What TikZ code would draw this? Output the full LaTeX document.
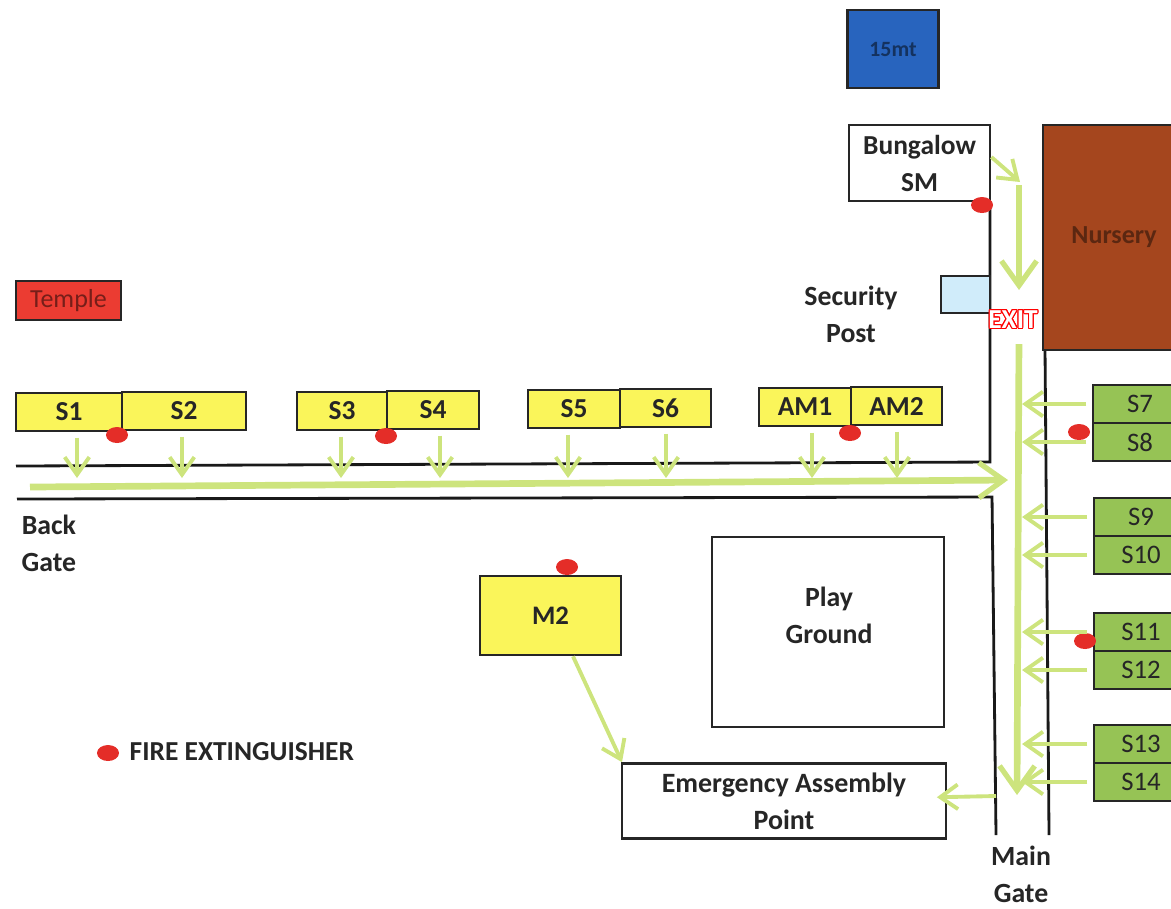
\documentclass[tikz,border=0pt]{standalone}
\usepackage{fontspec}
\usepackage[copies]{contour}
\setmainfont{Carlito}
\contourlength{0.3pt}
\usetikzlibrary{arrows.meta,shapes.geometric}
\definecolor{blockyellow}{RGB}{250,245,90}
\definecolor{blockgreen}{RGB}{150,195,85}
\definecolor{fleegreen}{RGB}{205,228,125}
\definecolor{nurserybrown}{RGB}{165,70,30}
\definecolor{tankblue}{RGB}{40,100,190}
\definecolor{templered}{RGB}{235,60,50}
\definecolor{postblue}{RGB}{208,236,250}
\definecolor{dotred}{RGB}{228,45,40}
\tikzset{
  block/.style={draw=black!85,line width=0.75pt,inner sep=0pt,align=center,text=black!85,
    font=\fontsize{7.8}{10.5}\selectfont\bfseries},
  yellowblock/.style={block,fill=blockyellow,minimum height=0.38cm},
  greenblock/.style={block,fill=blockgreen,font=\fontsize{7.6}{10}\selectfont,minimum width=0.94cm,minimum height=0.38cm},
  plain/.style={inner sep=0pt,align=center,text=black!85,font=\fontsize{7.9}{10.5}\selectfont\bfseries},
  wall/.style={black!90,line width=0.8pt},
  flee/.style={fleegreen,line width=1.1pt,-{Straight Barb[length=5pt,width=7pt,line width=1.1pt]}},
  fleemain/.style={fleegreen,line width=1.9pt,-{Straight Barb[length=7pt,width=10pt,line width=1.5pt]}},
  extdot/.style={ellipse,fill=dotred,inner sep=0pt,minimum width=0.22cm,minimum height=0.16cm}
}
\begin{document}
\begin{tikzpicture}[x=0.01cm,y=-0.01cm]
\useasboundingbox (0,0) rectangle (1171,908);
% walls
\draw[wall] (16,466) -- (990,462) -- (990,201);
\draw[wall] (17,499) -- (992,497) -- (996,835);
\draw[wall] (1045,350) -- (1049,835);
% buildings
\node[block,fill=tankblue,font=\fontsize{6.2}{8}\selectfont\bfseries,text=black!50!tankblue,minimum width=0.91cm,minimum height=0.78cm] (tank) at (893,49) {15mt};
\node[block,fill=white,minimum width=1.41cm,minimum height=0.76cm] (bungalow) at (919.5,163) {Bungalow\\SM};
\node[block,fill=nurserybrown,font=\fontsize{7.4}{10}\selectfont\bfseries,text=black!45!nurserybrown,minimum width=1.42cm,minimum height=2.25cm] (nursery) at (1114,237.5) {Nursery};
\node[block,fill=templered,font=\fontsize{7.4}{10}\selectfont,text=black!50!templered,minimum width=1.05cm,minimum height=0.39cm] (temple) at (68.5,300.5) {Temple};
\node[block,fill=postblue,minimum width=0.49cm,minimum height=0.37cm] (post) at (965.5,294.5) {};
\node[plain] (postlabel) at (851,314) {Security\\Post};
% row of blocks
\node[yellowblock,minimum width=1.06cm] (sa) at (69,412) {S1};
\node[yellowblock,minimum width=1.24cm] (sb) at (184,411) {S2};
\node[yellowblock,minimum width=0.90cm] (sc) at (342,411) {S3};
\node[yellowblock,minimum width=0.92cm] (sd) at (433,410) {S4};
\node[yellowblock,minimum width=0.92cm] (se) at (574,409) {S5};
\node[yellowblock,minimum width=0.91cm] (sf) at (665.5,408) {S6};
\node[yellowblock,minimum width=0.92cm] (ama) at (805,407) {AM1};
\node[yellowblock,minimum width=0.91cm] (amb) at (896.5,406) {AM2};
% blocks along the main road
\node[greenblock] (sg) at (1140,404) {S7};
\node[greenblock] (sh) at (1140,442) {S8};
\node[greenblock] (si) at (1141,517) {S9};
\node[greenblock] (sj) at (1141,555) {S10};
\node[greenblock] (sk) at (1141,632) {S11};
\node[greenblock] (sl) at (1141,670) {S12};
\node[greenblock] (sm) at (1141,744) {S13};
\node[greenblock] (sn) at (1141,782) {S14};
% others
\node[block,fill=blockyellow,font=\fontsize{7.6}{10}\selectfont\bfseries,minimum width=1.41cm,minimum height=0.79cm] (mtwo) at (550.5,615.5) {M2};
\node[block,fill=white,minimum width=2.32cm,minimum height=1.90cm] (play) at (828,632) {};
\node[plain] (playlabel) at (829,615) {Play\\Ground};
\node[block,fill=white,font=\fontsize{7.95}{10.5}\selectfont\bfseries,minimum width=3.24cm,minimum height=0.75cm] (assembly) at (784,801) {Emergency Assembly\\Point};
\node[plain,anchor=west] (backgate) at (21,543) {Back\\Gate};
\node[plain] (maingate) at (1021,874) {Main\\Gate};
\node[font=\fontsize{7.8}{8}\selectfont\bfseries,inner sep=0pt] (exit) at (1013,320) {\contour{red}{\textcolor{white}{EXIT}}};
% extinguishers
\node[extdot] (eb) at (982,205) {};
\foreach \n/\x/\y in {ea/117/435,ec/386/436,ed/850/433,ee/567/567,ef/1079/432,eg/1085/641}
  \node[extdot] (\n) at (\x,\y) {};
\node[extdot] (legenddot) at (108,753) {};
\node[plain,anchor=west,font=\fontsize{7.8}{9}\selectfont\bfseries] (legend) at (129,752) {FIRE EXTINGUISHER};
% escape routes
\coordinate (lane) at (0,478);
\coordinate (spine) at (1022,0);
\draw[fleemain] (30,487) -- (1008,480);
\draw[fleemain,shorten <=4pt] (exit.south -| 1019,0) -- (1017,795);
\draw[fleemain] (1019,185) -- (1019,290);
\draw[flee] (bungalow.east |- 0,157) -- (1020,182);
\foreach \a/\x in {sa/77,sb/182,sc/341,sd/440,se/568,sf/666,ama/812,amb/897}
  \draw[flee,shorten <=1.5pt] (\x,0 |- \a.south) -- (\x,0 |- lane);
\foreach \a in {sg,sh,si,sj,sk,sl,sm,sn}
  \draw[flee,shorten <=1.5pt] (\a.west) -- (\a.west -| spine);
\draw[flee,shorten >=-3pt] (996,796) -- (assembly.east |- 0,797);
\draw[flee] (mtwo.south -| 573,0) -- (assembly.north -| 622,0);
\end{tikzpicture}
\end{document}
